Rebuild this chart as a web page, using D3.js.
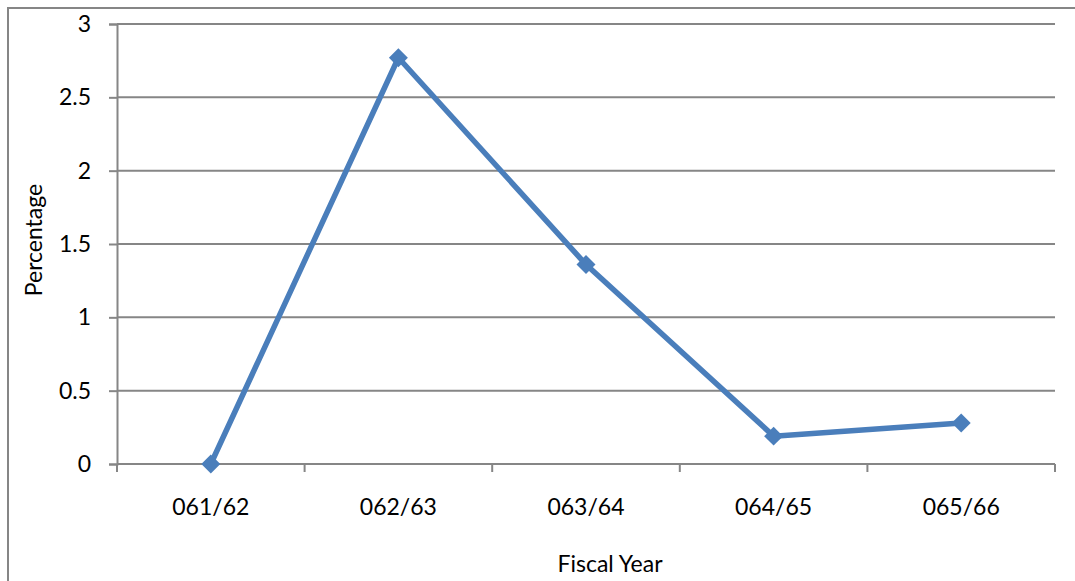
<!DOCTYPE html>
<html>
<head>
<meta charset="utf-8">
<script src="https://cdn.jsdelivr.net/npm/d3@7"></script>
<style>
  html, body { margin: 0; padding: 0; background: #fff; }
  svg { display: block; }
  text { font-family: Lato, "Open Sans", sans-serif; fill: #000; }
</style>
</head>
<body>
<svg id="chart" width="1075" height="581"></svg>
<script>
// Fiscal years and the percentage recorded in each
const categories = ["061/62", "062/63", "063/64", "064/65", "065/66"];
const values = [0, 2.77, 1.36, 0.19, 0.28];
const yTicks = [0, 0.5, 1, 1.5, 2, 2.5, 3];
const xTitle = "Fiscal Year";
const yTitle = "Percentage";

const svg = d3.select("#chart");
const W = 1075, H = 581;
const plot = { left: 117, right: 1055, top: 24, bottom: 464 };
const grey = "#868686";
const blue = "#4a7ebb";
const fontSize = "23px";

// outer chart frame (extends past the right and bottom edges)
svg.append("rect")
  .attr("x", 8).attr("y", 8)
  .attr("width", W + 20).attr("height", H + 20)
  .attr("fill", "none").attr("stroke", grey).attr("stroke-width", 2);

const x = d3.scaleBand().domain(categories).range([plot.left, plot.right]).padding(0);
const y = d3.scaleLinear().domain([0, 3]).range([plot.bottom, plot.top]);

// horizontal gridlines
svg.append("g").selectAll("line").data(yTicks.filter(d => d > 0)).join("line")
  .attr("x1", plot.left).attr("x2", plot.right)
  .attr("y1", d => y(d)).attr("y2", d => y(d))
  .attr("stroke", grey).attr("stroke-width", 2);

// y axis
const yAxis = svg.append("g")
  .attr("transform", `translate(${plot.left},0)`)
  .call(d3.axisLeft(y).tickValues(yTicks).tickSize(8).tickPadding(18).tickFormat(d3.format("")));
yAxis.select(".domain").attr("stroke", grey).attr("stroke-width", 2);
yAxis.selectAll(".tick line").attr("stroke", grey).attr("stroke-width", 2);
yAxis.selectAll(".tick text").style("font-size", fontSize).style("font-family", "Lato, sans-serif").attr("fill", "#000");

// x axis, with ticks on the category boundaries
const xAxisG = svg.append("g").attr("transform", `translate(0,${plot.bottom})`);
xAxisG.append("line")
  .attr("x1", plot.left).attr("x2", plot.right)
  .attr("stroke", grey).attr("stroke-width", 2);
const bounds = categories.map(c => x(c)).concat([x(categories[categories.length - 1]) + x.bandwidth()]);
xAxisG.selectAll("line.tick").data(bounds).join("line")
  .attr("class", "tick")
  .attr("x1", d => d).attr("x2", d => d)
  .attr("y1", 0).attr("y2", 8)
  .attr("stroke", grey).attr("stroke-width", 2);
xAxisG.selectAll("text").data(categories).join("text")
  .attr("x", d => x(d) + x.bandwidth() / 2)
  .attr("y", 51)
  .attr("text-anchor", "middle")
  .style("font-size", fontSize)
  .text(d => d);

// axis titles
svg.append("text")
  .attr("x", 610).attr("y", 572)
  .attr("text-anchor", "middle")
  .style("font-size", fontSize)
  .text(xTitle);
svg.append("text")
  .attr("transform", `translate(42,${(plot.top + plot.bottom) / 2 - 4}) rotate(-90)`)
  .attr("text-anchor", "middle")
  .style("font-size", fontSize)
  .text(yTitle);

// series line and diamond markers
const cx = d => x(d) + x.bandwidth() / 2;
const line = d3.line().x((d, i) => cx(categories[i])).y(d => y(d));
svg.append("path")
  .datum(values)
  .attr("d", line)
  .attr("fill", "none")
  .attr("stroke", blue).attr("stroke-width", 5.5)
  .attr("stroke-linejoin", "round");

const diamond = d3.symbol().type(d3.symbolSquare).size(180);
svg.append("g").selectAll("path").data(values).join("path")
  .attr("transform", (d, i) => `translate(${cx(categories[i])},${y(d)}) rotate(45)`)
  .attr("d", diamond)
  .attr("fill", blue);
</script>
</body>
</html>
